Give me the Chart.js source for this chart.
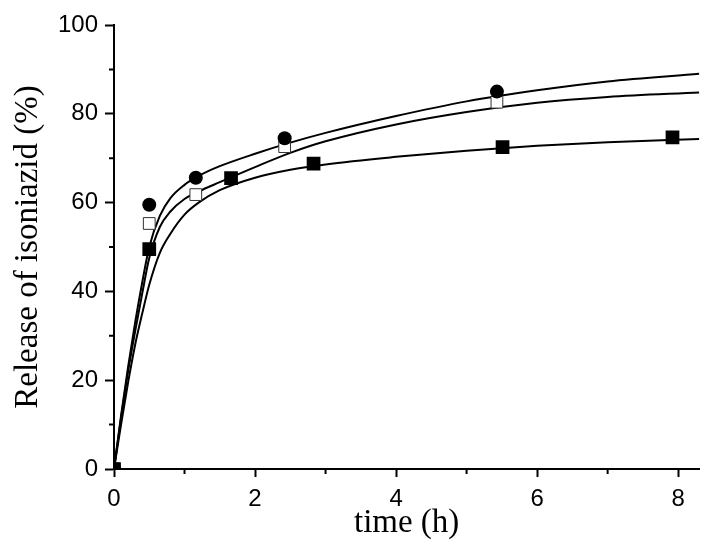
<!DOCTYPE html>
<html>
<head>
<meta charset="utf-8">
<script src="https://cdn.jsdelivr.net/npm/chart.js@4"></script>
<style>
  html, body { margin: 0; padding: 0; background: #fff; }
  #wrap { width: 709px; height: 543px; }
</style>
</head>
<body>
<div id="wrap"><canvas id="releaseChart"></canvas></div>
<script>
// measured points
const circleX = [0, 0.5, 1.16, 2.42, 5.43];
const circleY = [0, 59.5, 65.6, 74.5, 85.0];
const openSqX = [0, 0.5, 1.16, 2.42, 5.43];
const openSqY = [0, 55.3, 61.8, 72.6, 82.6];
const filledSqX = [0, 0.5, 1.66, 2.83, 5.51, 7.92];
const filledSqY = [0, 49.5, 65.5, 68.8, 72.5, 74.7];

// fitted curves
const curveX = [0, 0.1, 0.2, 0.3, 0.4, 0.5, 0.65, 0.8, 1.0, 1.2, 1.5, 2.0, 2.5, 3.0, 4.0, 5.0, 6.0, 7.0, 8.3];
const curveTop = [0, 12, 23, 33, 42, 50, 57, 61, 64, 66, 68.2, 71, 73.5, 75.7, 79.5, 82.8, 85.3, 87.3, 89];
const curveMid = [0, 11.5, 22, 31, 39.5, 47.5, 54.5, 58, 60.8, 62.5, 64.6, 68, 71.2, 73.8, 77.6, 80.4, 82.5, 83.8, 84.8];
const curveLow = [0, 10, 19.5, 28, 35, 41.5, 48.7, 53, 57.3, 60, 62.8, 65.6, 67.4, 68.6, 70.3, 71.7, 72.8, 73.6, 74.3];

const yTicks = [0, 20, 40, 60, 80, 100];
const xTicks = [0, 2, 4, 6, 8];

const pts = (xs, ys) => xs.map((x, i) => ({ x: x, y: ys[i] }));

const curve = (ys) => ({
  type: "line",
  data: pts(curveX, ys),
  borderColor: "#000",
  borderWidth: 2,
  pointRadius: 0,
  cubicInterpolationMode: "monotone",
  fill: false,
  order: 2,
});

// short minor ticks between the labelled ones
const minorTicks = {
  id: "minorTicks",
  afterDraw(chart) {
    const { ctx } = chart;
    const xs = chart.scales.x;
    const ys = chart.scales.y;
    ctx.save();
    ctx.strokeStyle = "#000";
    ctx.lineWidth = 2;
    ctx.beginPath();
    for (let v = 10; v < 100; v += 20) {
      const py = ys.getPixelForValue(v);
      ctx.moveTo(xs.left - 5, py);
      ctx.lineTo(xs.left, py);
    }
    for (let v = 1; v < 8.3; v += 2) {
      const px = xs.getPixelForValue(v);
      ctx.moveTo(px, ys.bottom);
      ctx.lineTo(px, ys.bottom + 5);
    }
    ctx.stroke();
    ctx.restore();
  },
};

const ctx = document.getElementById("releaseChart");

new Chart(ctx, {
  type: "scatter",
  data: {
    datasets: [
      curve(curveTop),
      curve(curveMid),
      curve(curveLow),
      {
        data: pts(openSqX, openSqY),
        pointStyle: "rect",
        pointRadius: 8.3,
        backgroundColor: "#fff",
        borderColor: "#333",
        borderWidth: 1,
        order: 1,
      },
      {
        data: pts(circleX, circleY),
        pointStyle: "circle",
        pointRadius: 7,
        backgroundColor: "#000",
        borderColor: "#000",
        borderWidth: 0,
        order: 0,
      },
      {
        data: pts(filledSqX, filledSqY),
        pointStyle: "rect",
        pointRadius: 9.7,
        backgroundColor: "#000",
        borderColor: "#000",
        borderWidth: 0,
        order: 0,
      },
    ],
  },
  options: {
    responsive: true,
    maintainAspectRatio: false,
    animation: false,
    layout: { padding: { top: 25, left: 0, right: 0, bottom: 0 } },
    plugins: {
      legend: { display: false },
      tooltip: { enabled: false },
    },
    scales: {
      x: {
        type: "linear",
        min: 0,
        max: 8.3,
        afterFit: (s) => { s.height = 74; },
        border: { color: "#000", width: 2 },
        grid: { drawOnChartArea: false, tickLength: 8, tickColor: "#000", tickWidth: 2 },
        ticks: {
          stepSize: 2,
          includeBounds: false,
          padding: 8,
          color: "#000",
          font: { family: "Liberation Sans, Arial", size: 24 },
          callback: (v) => (xTicks.includes(v) ? v : ""),
        },
        title: {
          display: true,
          text: "time (h)",
          color: "#000",
          padding: { top: 0, bottom: 0 },
          font: { family: "Liberation Serif, Times New Roman", size: 33 },
        },
      },
      y: {
        min: 0,
        max: 100,
        afterFit: (s) => { s.width = 114; },
        border: { color: "#000", width: 2 },
        grid: { drawOnChartArea: false, tickLength: 9, tickColor: "#000", tickWidth: 2 },
        ticks: {
          stepSize: 20,
          padding: 7,
          color: "#000",
          font: { family: "Liberation Sans, Arial", size: 24 },
          callback: (v) => (yTicks.includes(v) ? v : ""),
        },
        title: {
          display: true,
          text: "Release of isoniazid (%)",
          color: "#000",
          padding: { top: 9, bottom: 0 },
          font: { family: "Liberation Serif, Times New Roman", size: 33 },
        },
      },
    },
  },
  plugins: [minorTicks],
});
</script>
</body>
</html>
